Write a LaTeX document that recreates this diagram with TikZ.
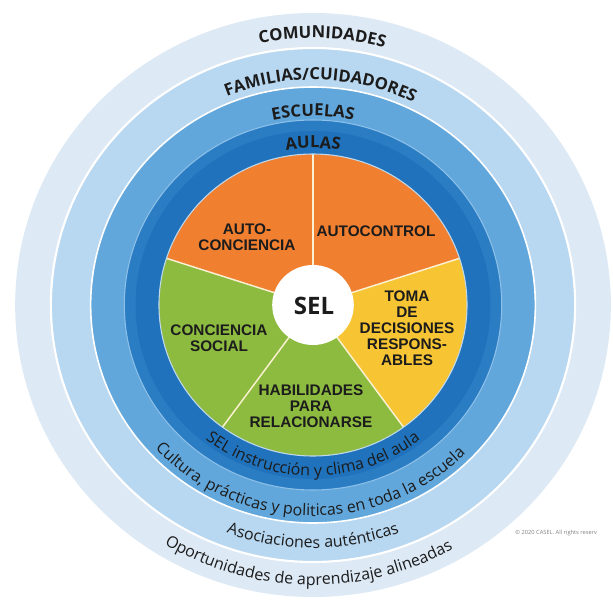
\documentclass[tikz,border=0pt]{standalone}
\usepackage{fontspec}
\setmainfont{Open Sans}
\newfontfamily\pieFont{Liberation Sans}
\usetikzlibrary{decorations.text}
\definecolor{ringA}{HTML}{DDE9F5}
\definecolor{ringB}{HTML}{B8D7F0}
\definecolor{ringC}{HTML}{62A7DB}
\definecolor{ringD}{HTML}{2A7CC3}
\definecolor{ringDin}{HTML}{1F72BB}
\definecolor{ringEdge}{HTML}{8CC0E8}
\definecolor{orangeS}{HTML}{F07F30}
\definecolor{greenS}{HTML}{8DBB40}
\definecolor{yellowS}{HTML}{F7C533}
\definecolor{sepC}{HTML}{FBF1D2}
\definecolor{txt}{HTML}{1C1C1C}
\tikzset{
  sepline/.style={sepC, line width=1.1pt},
  pietext/.style={align=center, inner sep=0pt, text=txt, font=\pieFont\bfseries\fontsize{11.5}{12}\selectfont},
  toptext/.style={decorate, decoration={text along path, text align=center, text color=txt, text={|\bfseries\fontsize{12.5}{14}\selectfont|#1}}},
  bottext/.style={decorate, decoration={text along path, text align=center, text color=txt, text={|\fontsize{12}{14}\selectfont|#1}}}
}
\begin{document}
\begin{tikzpicture}[x=0.75pt,y=0.75pt]
\useasboundingbox (0,0) rectangle (613,-599);
\begin{scope}[shift={(313,-305)}]
 \begin{scope}[xscale=1.02]
  \fill[ringA] (0,0) circle[radius=292];
  \draw[white, line width=1.6pt, fill=ringB] (0,0) circle[radius=257];
  \draw[white, line width=1.2pt, fill=ringC] (0,0) circle[radius=218];
  \draw[ringEdge, line width=0.8pt, fill=ringD] (0,0) circle[radius=185];
  \fill[ringDin] (0,0) circle[radius=174];
  \fill[orangeS] (0,0) -- (90:151) arc[start angle=90, end angle=162, radius=151] -- cycle;
  \fill[orangeS] (0,0) -- (18:151) arc[start angle=18, end angle=90, radius=151] -- cycle;
  \fill[yellowS] (0,0) -- (-54:151) arc[start angle=-54, end angle=18, radius=151] -- cycle;
  \fill[greenS] (0,0) -- (-126:151) arc[start angle=-126, end angle=-54, radius=151] -- cycle;
  \fill[greenS] (0,0) -- (162:151) arc[start angle=162, end angle=234, radius=151] -- cycle;
  \draw[sepline] (0,0) -- (90:151);
  \draw[sepline] (0,0) -- (18:151);
  \draw[sepline] (0,0) -- (-54:151);
  \draw[sepline] (0,0) -- (-126:151);
  \draw[sepline] (0,0) -- (162:151);
  \draw[white!70!ringD, line width=0.8pt] (0,0) circle[radius=151];
  \fill[white] (0,0) circle[radius=40];
  % ring texts
  \path[toptext={COMUNIDADES}] (168:267) arc[start angle=168, end angle=8, radius=267];
  \path[toptext={FAMILIAS/CUIDADORES}] (168:225) arc[start angle=168, end angle=8, radius=225];
  \path[toptext={ESCUELAS}] (170:189) arc[start angle=170, end angle=10, radius=189];
  \path[toptext={AULAS}] (170:157) arc[start angle=170, end angle=10, radius=157];
  \path[bottext={SEL instrucción y clima del aula}] (190:171) arc[start angle=190, end angle=350, radius=171];
  \path[bottext={Cultura, prácticas y politicas en toda la escuela}] (182:211) arc[start angle=182, end angle=356, radius=211];
  \path[bottext={Asociaciones auténticas}] (190:243) arc[start angle=190, end angle=350, radius=243];
  \path[bottext={Oportunidades de aprendizaje alineadas}] (189:280) arc[start angle=189, end angle=349, radius=280];
 \end{scope}
\end{scope}
\node[pietext] (autoconciencia) at (247,-237) {AUTO-\\CONCIENCIA};
\node[pietext] (autocontrol) at (376,-231) {AUTOCONTROL};
\node[pietext] (toma) at (407,-328) {TOMA\\DE\\DECISIONES\\RESPONS-\\ABLES};
\node[pietext] (social) at (219,-338) {CONCIENCIA\\SOCIAL};
\node[pietext] (habilidades) at (311,-406) {HABILIDADES\\PARA\\RELACIONARSE};
\node[inner sep=0pt, text=txt, font=\bfseries\fontsize{18}{20}\selectfont] (sel) at (314,-306) {SEL};
\node[anchor=west, inner sep=0pt, text=gray, font=\fontsize{4.3}{5}\selectfont] (copy) at (515,-533) {© 2020 CASEL. All rights reserv};
\end{tikzpicture}
\end{document}
